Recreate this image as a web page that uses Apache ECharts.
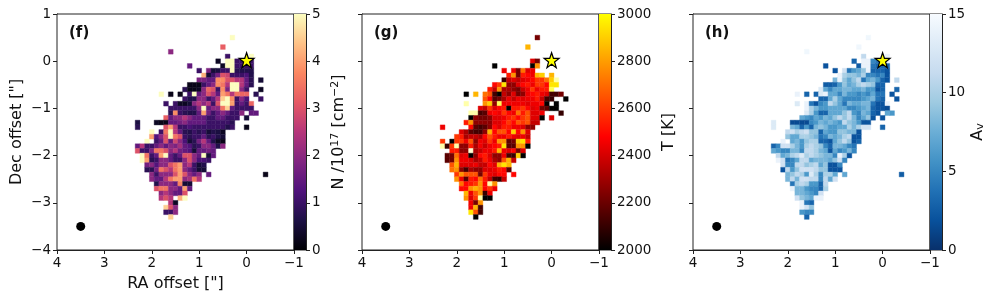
<!DOCTYPE html>
<html><head><meta charset="utf-8">
<style>html,body{margin:0;padding:0;background:#fff}#c{width:996px;height:300px}</style>
<script src="https://cdn.jsdelivr.net/npm/echarts@6/dist/echarts.min.js"></script>
</head><body><div id="c"></div>
<script>
// Each entry: [Dec index (x0.1"), first RA index (x0.1"), values for descending RA index...]
const columnDensityRows = [
[5,3,5],[3,5,3.2],[2,16,2],[1,4,1],[1,-1,5],
[0,6,.3],[0,4,5,5,1,1,1,1],
[-1,12,1.5],[-1,5,.3,5,5,1,1,1,1],
[-2,10,1],[-2,8,1.8,.5,.6,1,1,5,.8,.7,.7,.7],
[-3,9,4.2,.5,1,1.7,3,2.8,1,1,1,1.2,.7],
[-4,10,1.8,1.8,1.5,1.5,3.8,3.8,3,3,2.5,2.5,1.5,.8],[-4,-3,.5],
[-5,12,.2,.2,.2,1,1.5,2,3.8,3.5,2.5,5,5,2.5,1.5,.8],
[-6,13,.8,.2,.2,.3,2,3.3,3,1,3.8,1.8,5,5,2,1],[-6,-3,.3],
[-7,18,5],[-7,16,.2],[-7,14,.2],[-7,12,1,5,1.5,2,3,2.5,1.5,4,3.5,2.5,3.5,3.3,3.3],[-7,-2,.8],
[-8,13,1,.7,.7,2,2,1,1.5,2.5,4.5,5,3.8,1,2,1.2],[-8,-3,1],
[-9,17,1],[-9,15,1,.3,.3,.5,2,2.5,2,2.5,1,3,5,5,4,1,1.5,1,3.3],
[-10,16,1,1,1,1,1,1,2,5,1.5,2,2,3.5,4.5,1.5,1,1,1,1],
[-11,16,.8,3.8,1,.8,.7,.7,1.5,4,1.7,1,1.5,2,1.5,1,1,2,null,1.5,1.5],
[-12,17,3.2,1.5,2,2,2.5,2,1.5,1.5,1.5,1,1,1.5,1.5,1,1,1],[-12,0,.5],
[-13,23,.6],[-13,19,.3,.2,.2,1.5,1.5,1.7,2,1.5,1.5,1.5,1.5,1,1,1,1,1,.8],
[-14,23,.8],[-14,17,3,4,2.5,1,1,1.2,1,1,1,1,1,1,1,.7,1],[-14,0,.2],
[-15,20,5],[-15,18,1,3.5,5,2.5,1.5,.8,.7,1,.8,1,.5,.7,.6,.3],
[-16,20,4,1.3,2,3,5,3.5,3,1,.8,1,1,1.5,.8,1,.7,.5],
[-17,21,5],[-17,19,1,1.5,3,1.5,2.8,2,1.2,.5,.8,1.7,2.5,1.5,.7,.3,.2],
[-18,23,1.5,2.5,1,1,1.5,2,1.5,2,1.8,2.3,1.5,1.3,.8,1,2,2,1.5,.7,2],
[-19,23,3,1,1,1.8,3.5,3.5,3,2,2.5,1.7,1.5,1.3,.5,1.5,1.5,1.7,1.5],
[-20,22,5,3.5,1,1.5,4,5,1.5,1,1.5,3,3,2,1.5,5,.5,1.5],
[-21,22,5,4,.8,1,2,2,1.5,1,1,2,3,2,1.2,1.2,1],
[-22,21,1.7,2,1.3,2,2,3,3.5,4,2,2.5,1,.5,.7],
[-23,21,.8,.8,1.7,3.5,3,2.5,3.5,4,2,1.5,1,.5,.5],
[-24,20,2,1,2,2,2,3,4,3,2,1.5,2],[-24,8,1.5],[-24,-4,.2],
[-25,20,2,1.5,1.5,2.5,3.5,4,4,2,2.3,3.5,2.5],
[-26,19,.7,2,2,2,1.5,3.7,.5,.5],
[-27,19,3,3.5,3.5,2,2,1.5,4,1.5],
[-28,18,2,2.5,2,1.5,1.5,3],
[-29,18,2.5,3,2.5],[-29,14,4.2,5],
[-30,16,2.5,.3],
[-31,17,4.5,3,2],
[-32,17,1,1,2],
[-33,16,4.5]
];
const temperatureRows = [
[5,3,2220],[3,5,2850],[0,4,2420,2220],[-1,12,2000],[-1,4,2000,2780],
[-2,10,2450],[-2,8,2450,2220,2710,2420,2450],
[-3,9,2530,2780,2220,2530,2490,2450,2850,2900,null,2850],
[-4,10,2100,2370,2420,2370,2420,2450,2490,2590,2590,2710,2900,3200],
[-5,12,2490,2590,2950,2270,2270,2420,2490,2530,2450,2590,2590,2490,2950,2950],
[-6,13,2530,2370,2780,2320,2320,2270,2220,2370,2450,2590,2450,2530,2530,3100],
[-7,18,2000],[-7,16,2850],[-7,14,2710,2650,2130,2000,2370,2270,2420,2220,2270,2450,2490,2530,2450,2420,2130,2130],[-7,-2,2220],
[-8,14,2650,2490,2170,2220,2320,2450,2370,2450,2420,2450,2450,2530,2370,2130,2100],[-8,-3,2000],
[-9,18,3200],[-9,14,2780,2900,2270,3100,2450,2450,2450,2450,2450,2420,2450,2450,2490,2000],[-9,-1,2000],
[-10,15,2420,2370,2590,2420,2490,2530,2000,2530,2530,2590,2490,2420,2450,2220,2170,2000,2000],
[-11,17,3200,3200,2130,2170,2450,2490,2450,2590,2490,2450,2710,2530,2650,2420,2420,2450],[-11,-2,2100],
[-12,17,2000,2270,2220,2220,2270,2420,2420,2450,2530,2590,2490,2590,2650,2420,2420,2000],[-12,0,2420],
[-13,18,2530,2780,2270,2270,2270,2270,2420,2420,2490,2590,2490,2650,2590,2650,2370,2370],
[-14,23,2450],[-14,17,2490,2170,2130,2170,2270,2490,2420,2530,2530,2450,2450,2420,2270,2270],
[-15,19,2420,2320,2170,2130,2130,2270,2850,2490,2650,2650,2490,2900,2490,2780,2420],
[-16,20,2590,2530,2320,2370,2370,2320,2490,2650,2530,2450,2450,2530,2450,2420,2450,2370],
[-17,23,2590],[-17,21,2000,2590,2590,2450,2650,2270,2450,2420,2590,2450,2780,2780,2170,2220,2900,2950,2530],
[-18,23,3200,2100,2590,3200,2270,2270,2530,2320,2450,2370,2450,2490,2530,2950,2170,2170,2780,2780,2000],
[-19,21,2530,2530,2270,2270,3250,2320,2370,2450,2450,2530,2850,2450,2420,2490,2220,2420],
[-20,22,2170,2220,2710,2420,2450,2000,2270,2490,2530,2420,2270,2270,2450,2130,2100,2900,2000],
[-21,22,2170,2220,2780,2450,2450,2420,2320,2370,2530,2450,2320,2270,2650,2850,2370],
[-22,21,2650,2850,2420,2420,2420,2450,2370,2370,2490,2420,2850,2950,2850],
[-23,21,2710,2780,2270,2130,2320,2270,2270,2420,2420,2450,2530,2490,2170],
[-24,20,2590,2780,2650,2650,2650,2220,2590,2450,2420,2490,2490],[-24,8,2490],
[-25,20,2780,2450,2170,2530,2490,2710,2530,2370,2130,2100,2370],
[-26,19,2710,2490,2530,2590,2780,2490,3200,2780],
[-27,19,2490,2490,2780,2850,2780,2490,2590,2450],
[-28,18,2850,2450,2650,2780,2100,2450],
[-29,18,2780,2420,2590,3200,2000,2000],
[-30,17,2450,2220,2780],
[-31,17,2450,2850,2130],
[-32,17,2950,2650,2130],
[-33,16,2000]
];
const extinctionRows = [
[5,3,14.5],[3,5,14.5],[2,16,14.5],[1,4,11],[1,-1,14],
[0,6,3],[0,4,14,14,5,4,4,14],
[-1,12,2],[-1,5,2.5,14,14,4,3,3,3],
[-2,10,2],[-2,8,12,4,6,7,9,14,3,3,3,2],
[-3,9,14,10,9,9,8,10,5,5,4,5,2],
[-4,10,8,14,9,7,9,11,4,7,8,6,3,2],[-4,-3,11],
[-5,12,2.5,2.5,3,6,9,7,8,10,11,10,9,3,3],
[-6,13,13,7,5,7,7,8,8,7,7,8,6,6,2,3],[-6,-3,3],
[-7,18,14],[-7,16,3],[-7,14,3,13,14,7,7,5,8,6,6,5,6,5,7,4,4],[-7,-2,2],
[-8,13,3,3,7,10,7,5,5,5,5,6,7,8,4,3],[-8,-3,2],
[-9,18,13],[-9,16,14,4,2,5,6,11,9,7,4,8,7,7,8,8,4,2,2,14],
[-10,16,14,10,8,6,6,7,7,7,7,5,5,6,7,8,3,2,2,1.5],
[-11,16,13,10,6,3,3,7,7,7,9,11,6,5,8,7,3,2],[-11,-1,7,6],
[-12,17,7,6,5,7,6,8,7,9,11,9,11,8,5,7,9,2],[-12,0,2],
[-13,23,13],[-13,19,1.5,1.5,1.5,1.5,5,6,8,7,8,7,6,11,9,8,6,2,2],
[-14,23,13],[-14,19,8,7,3,6,3,8,9,8,6,6,7,7,10,8,10,12,12],[-14,0,3],
[-15,20,11,12,10,11,12,9,9,3,7,6,6,9,9,8,8,2],
[-16,20,9,7,7,10,10,9,8,4,5,8,7,8,10,11,2,2],
[-17,21,14],[-17,19,7,8,6,9,10,10,3,3,2,7,9,11,9,2,3],
[-18,23,3,5,12,12,10,8,6,10,11,10,9,5,3,8,8,7,5,4],
[-19,23,7,6,5,5,8,8,5,11,11,10,8,7,2,7,5,6,8,5],
[-20,22,11,7,8,10,11,13,10,11,10,9,8,8,5,14,10,2],
[-21,22,14,12,4,5,7,11,11,7,8,8,8,7,9,12,5],
[-22,21,12,5,5,11,11,9,10,11,7,9,2,2,5],
[-23,21,2,11,6,9,12,12,12,11,9,9,2,2,2],
[-24,20,8,9,11,10,6,13,10,5,10,10,7],[-24,8,7],[-24,-4,2.5],
[-25,20,8,11,8,12,12,11,11,5,11,7,12],
[-26,19,4,10,11,10,6,6,3,11],
[-27,19,14,8,8,6,5,5,3,10],
[-28,18,8,8,7,6,5,12],
[-29,18,12,9,8,7,14,14],
[-30,17,14,4,3],
[-31,17,14,12,9],
[-32,17,6,5,5],
[-33,16,3]
];
const starPosition = [0, 0];
const beamPosition = [3.5, -3.5];
const panelLabels = ['(f)', '(g)', '(h)'];
const magmaStops = [[0,'#000004'],[.625,'#1c1044'],[1.25,'#4f127b'],[1.875,'#812581'],[2.5,'#b5367a'],[3.125,'#e55964'],[3.75,'#fb8761'],[4.375,'#fec287'],[5,'#fcfdbf']];
const hotStops = [[2000,'#000000'],[2480,'#ff0000'],[3000,'#ffff00'],[3300,'#ffffff']];
const bluesStops = [[0,'#08306b'],[1.875,'#08519c'],[3.75,'#2171b5'],[5.625,'#4292c6'],[7.5,'#6baed6'],[9.375,'#9ecae1'],[11.25,'#c6dbef'],[13.125,'#deebf7'],[15,'#f7fbff']];

function hex(c){return [1,3,5].map(i=>parseInt(c.substr(i,2),16));}
function colorAt(stops,v){
  if(v<=stops[0][0])return stops[0][1];
  for(let i=1;i<stops.length;i++){
    if(v<=stops[i][0]){
      const t=(v-stops[i-1][0])/(stops[i][0]-stops[i-1][0]),a=hex(stops[i-1][1]),b=hex(stops[i][1]);
      return 'rgb('+a.map((x,j)=>Math.round(x+(b[j]-x)*t)).join(',')+')';
    }
  }
  return stops[stops.length-1][1];
}
function cells(rows){
  const out=[];
  rows.forEach(r=>{for(let i=2;i<r.length;i++){if(r[i]!==null)out.push([(r[1]-(i-2))/10,r[0]/10,r[i]]);}});
  return out;
}
const FONT='"DejaVu Sans"';
const AX='#222';
const TICK=13.5, LABEL=16;
const chart=echarts.init(document.getElementById('c'),null,{renderer:'canvas'});
const panels=[
 {rows:columnDensityRows,stops:magmaStops,left:57,barLeft:294,min:0,max:5,interval:1,
  name:'{a|N /10}{s|17}{a| [cm}{s|−2}{a|]}',nameGap:24},
 {rows:temperatureRows,stops:hotStops.slice(0,3),full:hotStops,left:362,barLeft:599,min:2000,max:3000,interval:200,
  name:'{a|T [K]}',nameGap:50},
 {rows:extinctionRows,stops:bluesStops,left:693,barLeft:930,min:0,max:15,interval:5,
  name:'{a|A}{b|v}',nameGap:28}
];
const W=237,TOP=14,H=236,BW=12;
const grid=[],xAxis=[],yAxis=[],series=[],title=[];
const axisCommon={axisLine:{show:true,onZero:false,lineStyle:{color:AX,width:1}},
  axisTick:{show:true,length:4,lineStyle:{color:AX,width:1}},splitLine:{show:false}};
const minus=v=>String(v).replace('-','−');
panels.forEach((p,i)=>{
  const g=i*2,b=i*2+1;
  grid.push({left:p.left,top:TOP,width:W,height:H,show:true,borderColor:AX,borderWidth:1,backgroundColor:'#fff',z:1});
  grid.push({left:p.barLeft,top:TOP,width:BW,height:H,show:true,borderColor:AX,borderWidth:1,z:1});
  xAxis.push(Object.assign({},axisCommon,{gridIndex:g,type:'value',inverse:true,min:-1,max:4,interval:1,
    axisLabel:{fontFamily:FONT,fontSize:TICK,color:'#111',margin:6,formatter:minus},
    name:i===0?'RA offset [\"]':'',nameLocation:'middle',nameGap:26,nameTextStyle:{fontFamily:FONT,fontSize:LABEL,color:'#111'}}));
  yAxis.push(Object.assign({},axisCommon,{gridIndex:g,type:'value',min:-4,max:1,interval:1,
    axisLabel:{show:i===0,fontFamily:FONT,fontSize:TICK,color:'#111',margin:6,formatter:minus},
    name:i===0?'Dec offset [\"]':'',nameLocation:'middle',nameGap:32,nameRotate:90,nameTextStyle:{fontFamily:FONT,fontSize:LABEL,color:'#111'}}));
  xAxis.push({gridIndex:b,type:'value',min:0,max:1,show:false});
  yAxis.push(Object.assign({},axisCommon,{gridIndex:b,type:'value',position:'right',min:p.min,max:p.max,interval:p.interval,
    axisLabel:{fontFamily:FONT,fontSize:TICK,color:'#111',margin:6,formatter:v=>String(v)},
    name:p.name,nameLocation:'middle',nameGap:p.nameGap,nameRotate:90,
    nameTextStyle:{rich:{a:{fontFamily:FONT,fontSize:LABEL,color:'#111'},s:{fontFamily:FONT,fontSize:11,color:'#111',verticalAlign:'bottom',padding:[0,0,7,0]},b:{fontFamily:FONT,fontSize:11,color:'#111',verticalAlign:'bottom'}}}}));
  const full=p.full||p.stops;
  series.push({type:'custom',xAxisIndex:g,yAxisIndex:g,coordinateSystem:'cartesian2d',clip:true,silent:true,z:2,
    data:cells(p.rows),
    renderItem:(params,api)=>{
      const x=api.value(0),y=api.value(1);
      const a=api.coord([x+.05,y+.05]),c=api.coord([x-.05,y-.05]);
      const col=colorAt(full,api.value(2));
      return {type:'rect',shape:{x:a[0],y:a[1],width:c[0]-a[0],height:c[1]-a[1]},
        style:{fill:col,stroke:col,lineWidth:.4}};
    }});
  const span=p.max-p.min;
  series.push({type:'custom',xAxisIndex:b,yAxisIndex:b,coordinateSystem:'cartesian2d',silent:true,z:2,
    data:[[0,p.min,1,p.max]],
    renderItem:(params,api)=>{
      const a=api.coord([api.value(0),api.value(3)]),c=api.coord([api.value(2),api.value(1)]);
      return {type:'rect',shape:{x:a[0],y:a[1],width:c[0]-a[0],height:c[1]-a[1]},
        style:{fill:new echarts.graphic.LinearGradient(0,1,0,0,p.stops.map(s=>({offset:(s[0]-p.min)/span,color:s[1]})))}};
    }});
  series.push({type:'scatter',xAxisIndex:g,yAxisIndex:g,silent:true,z:5,data:[starPosition],
    symbol:'path://M0,-10 L2.35,-3.24 L9.51,-3.09 L3.8,1.24 L5.88,8.09 L0,4 L-5.88,8.09 L-3.8,1.24 L-9.51,-3.09 L-2.35,-3.24 Z',
    symbolSize:15,symbolOffset:[0,-1],itemStyle:{color:'#ffff00',borderColor:'#000',borderWidth:1.2,opacity:1}});
  series.push({type:'scatter',xAxisIndex:g,yAxisIndex:g,silent:true,z:5,data:[beamPosition],
    symbol:'circle',symbolSize:9,itemStyle:{color:'#000',opacity:1}});
  title.push({text:panelLabels[i],left:p.left+12,top:26,padding:0,textStyle:{fontFamily:FONT,fontSize:15,fontWeight:'bold',color:'#111'}});
});
chart.setOption({animation:false,backgroundColor:'#fff',title,grid,xAxis,yAxis,series});
</script></body></html>
